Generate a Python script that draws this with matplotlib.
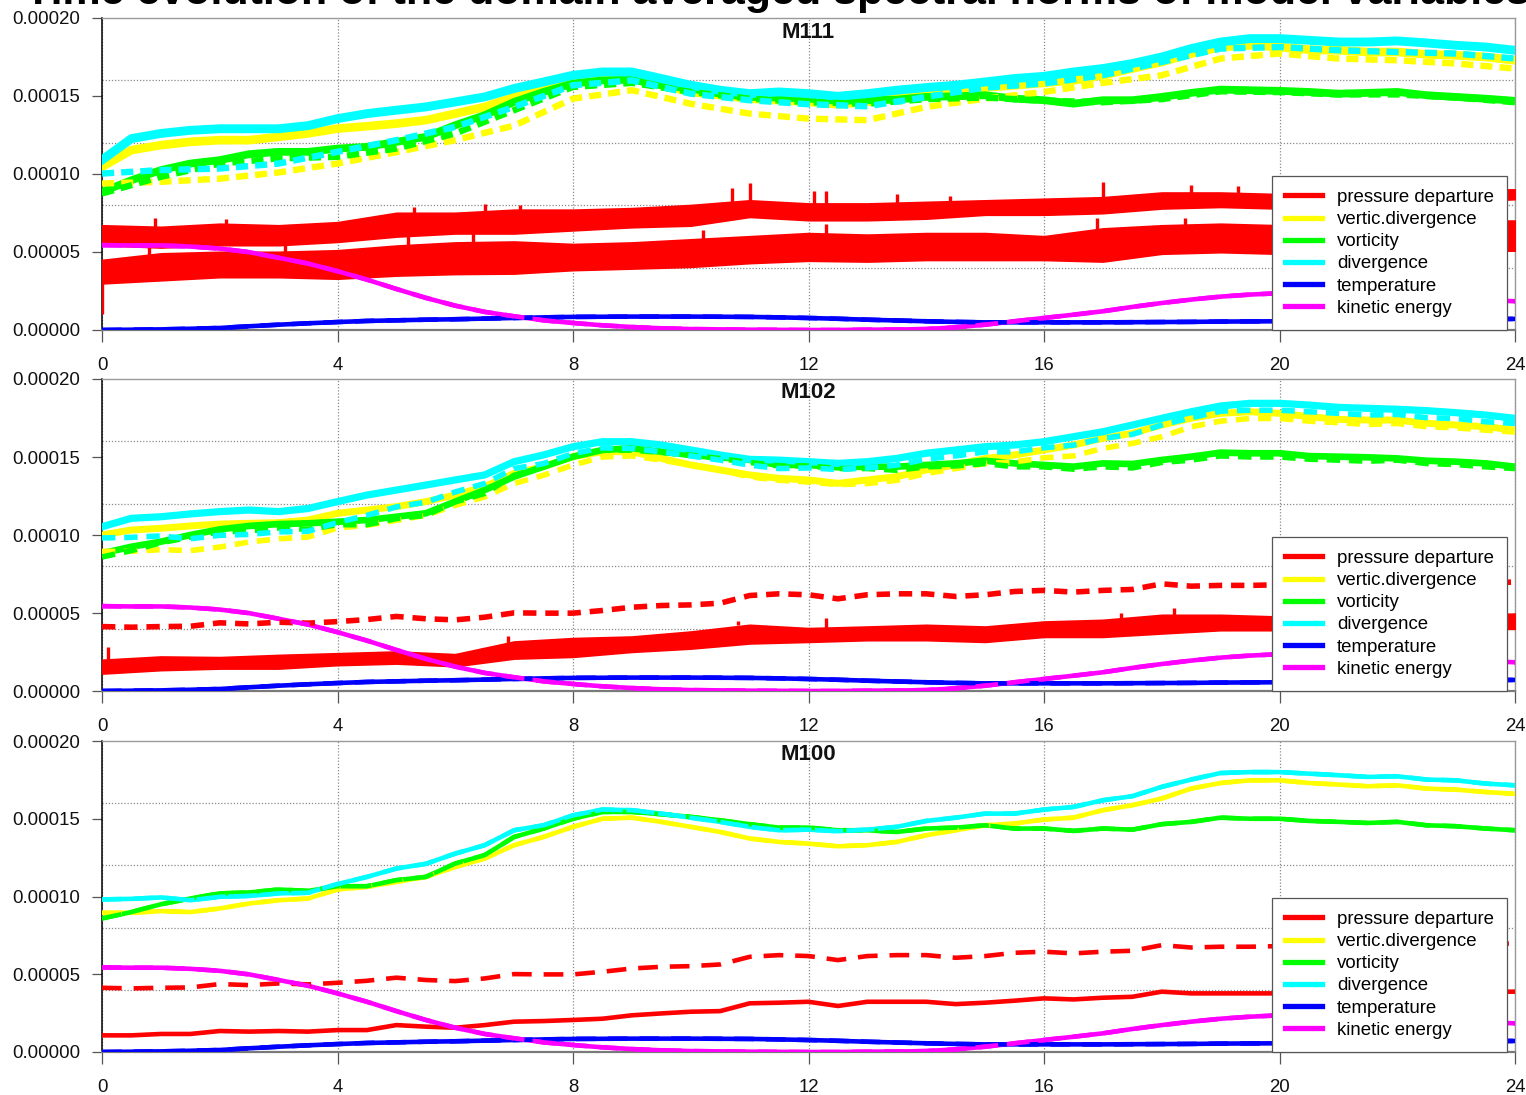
import numpy as np
import matplotlib
matplotlib.use("Agg")
import matplotlib.pyplot as plt
from matplotlib.lines import Line2D

plt.rcParams['font.family'] = ['Liberation Sans', 'DejaVu Sans']

# ---------------- data (values in units of 1e-5) ----------------
SCALE = 1e-5
hours = np.arange(0, 24.5, 0.5)      # half-hourly samples
hours_h = np.arange(0, 25, 1)        # hourly samples

variables = ['pressure departure', 'vertic.divergence', 'vorticity',
             'divergence', 'temperature', 'kinetic energy']
colors = ['#ff0000', '#ffff00', '#00ff00', '#00ffff', '#0000ff', '#ff00ff']
panel_titles = ['M111', 'M102', 'M100']
x_ticks = [0, 4, 8, 12, 16, 20, 24]
y_ticks = [0.0, 0.00005, 0.00010, 0.00015, 0.00020]
y_grid = [0.00004, 0.00008, 0.00012, 0.00016]
suptitle = 'Time evolution of the domain averaged spectral norms of model variables'

# shared smooth curves
kinetic = [5.44, 5.42, 5.42, 5.35, 5.22, 4.99, 4.63, 4.26, 3.77, 3.23,
           2.63, 2.06, 1.56, 1.16, 0.88, 0.62, 0.45, 0.30, 0.19, 0.11,
           0.06, 0.04, 0.02, 0.01, 0.00, 0.00, 0.02, 0.03, 0.06, 0.17,
           0.34, 0.56, 0.77, 0.98, 1.20, 1.48, 1.73, 1.95, 2.14, 2.27,
           2.36, 2.38, 2.36, 2.30, 2.22, 2.12, 2.02, 1.93, 1.84]
temperature = [0.00, 0.02, 0.04, 0.08, 0.13, 0.24, 0.34, 0.43, 0.51, 0.58,
               0.62, 0.66, 0.69, 0.73, 0.77, 0.81, 0.84, 0.85, 0.86, 0.86,
               0.86, 0.85, 0.84, 0.81, 0.77, 0.72, 0.66, 0.61, 0.56, 0.52,
               0.49, 0.49, 0.49, 0.49, 0.49, 0.50, 0.51, 0.52, 0.54, 0.55,
               0.56, 0.58, 0.60, 0.62, 0.64, 0.66, 0.68, 0.70, 0.71]

# M100 (smooth)
m100_pressure = [1.07, 1.07, 1.16, 1.16, 1.35, 1.31, 1.35, 1.31, 1.41, 1.41,
                 1.73, 1.63, 1.56, 1.73, 1.95, 1.99, 2.06, 2.14, 2.36, 2.48,
                 2.59, 2.63, 3.13, 3.17, 3.23, 2.96, 3.23, 3.23, 3.23, 3.08,
                 3.17, 3.30, 3.45, 3.38, 3.49, 3.55, 3.88, 3.77, 3.77, 3.77,
                 3.77, 3.80, 3.80, 3.80, 3.82, 3.85, 3.85, 3.87, 3.88]
m100_pressure_dash = [4.13, 4.09, 4.13, 4.15, 4.37, 4.30, 4.41, 4.35, 4.45, 4.58,
                      4.78, 4.63, 4.56, 4.73, 5.01, 4.99, 4.99, 5.16, 5.37, 5.48,
                      5.52, 5.63, 6.12, 6.23, 6.17, 5.91, 6.17, 6.23, 6.23, 6.06,
                      6.17, 6.38, 6.45, 6.34, 6.45, 6.51, 6.87, 6.72, 6.77, 6.77,
                      6.81, 6.85, 6.85, 6.88, 6.90, 6.90, 6.92, 6.95, 6.98]
m100_vdiv = [8.95, 8.95, 9.06, 9.00, 9.23, 9.55, 9.76, 9.87, 10.45, 10.62,
             10.94, 11.26, 11.90, 12.44, 13.30, 13.83, 14.48, 15.00, 15.07, 14.80,
             14.48, 14.15, 13.73, 13.51, 13.40, 13.23, 13.30, 13.51, 13.94, 14.26,
             14.58, 14.69, 14.95, 15.07, 15.55, 15.87, 16.30, 16.94, 17.30, 17.47,
             17.47, 17.30, 17.20, 17.09, 17.15, 16.94, 16.87, 16.72, 16.60]
m100_vort = [8.59, 9.00, 9.50, 9.87, 10.20, 10.26, 10.45, 10.36, 10.66, 10.66,
             11.05, 11.26, 12.12, 12.66, 13.83, 14.37, 15.00, 15.44, 15.44, 15.29,
             15.12, 14.90, 14.65, 14.43, 14.43, 14.26, 14.26, 14.15, 14.37, 14.43,
             14.58, 14.37, 14.37, 14.22, 14.37, 14.30, 14.65, 14.80, 15.07, 15.00,
             15.00, 14.86, 14.80, 14.73, 14.80, 14.58, 14.52, 14.37, 14.26]
m100_div = [9.81, 9.85, 9.94, 9.76, 9.98, 10.04, 10.20, 10.24, 10.80, 11.26,
            11.80, 12.10, 12.76, 13.30, 14.26, 14.58, 15.22, 15.59, 15.55, 15.33,
            15.07, 14.80, 14.48, 14.26, 14.30, 14.20, 14.30, 14.48, 14.86, 15.07,
            15.33, 15.33, 15.59, 15.76, 16.19, 16.45, 17.05, 17.52, 17.94, 18.00,
            18.00, 17.90, 17.80, 17.69, 17.73, 17.52, 17.47, 17.26, 17.15]

# M102 (noisy solid lines; dashed lines follow the M100 curves)
m102_pressure_lo = [1.13, 1.35, 1.45, 1.45, 1.67, 1.77, 1.60, 2.09, 2.20, 2.52,
                    2.73, 3.06, 3.16, 3.27, 3.27, 3.16, 3.48, 3.48, 3.70, 3.91,
                    3.91, 3.90, 3.90, 3.95, 4.00]
m102_pressure_hi = [1.99, 2.20, 2.16, 2.30, 2.41, 2.52, 2.35, 3.16, 3.38, 3.48,
                    3.80, 4.23, 4.02, 4.12, 4.23, 4.12, 4.44, 4.55, 4.87, 4.87,
                    4.76, 4.80, 4.80, 4.85, 4.95]
m102_vdiv = [10.00, 10.32, 10.43, 10.58, 10.70, 10.75, 10.79, 10.96, 11.39, 11.60,
             11.82, 12.14, 12.56, 13.10, 13.95, 14.38, 15.02, 15.34, 15.34, 14.91,
             14.49, 14.17, 13.85, 13.63, 13.53, 13.31, 13.53, 13.74, 14.17, 14.49,
             14.91, 15.13, 15.45, 15.77, 16.20, 16.52, 17.05, 17.48, 17.80, 17.90,
             17.80, 17.59, 17.41, 17.37, 17.37, 17.16, 17.05, 16.94, 16.73]
m102_vort = [8.82, 9.25, 9.57, 10.00, 10.36, 10.58, 10.70, 10.75, 10.85, 10.96,
             11.17, 11.39, 12.14, 12.88, 13.74, 14.38, 15.02, 15.45, 15.56, 15.34,
             15.13, 14.98, 14.81, 14.49, 14.49, 14.34, 14.38, 14.38, 14.49, 14.59,
             14.76, 14.59, 14.49, 14.38, 14.59, 14.55, 14.81, 15.02, 15.28, 15.24,
             15.24, 15.06, 15.02, 14.98, 14.91, 14.76, 14.70, 14.59, 14.38]
m102_div = [10.53, 11.07, 11.17, 11.35, 11.50, 11.60, 11.50, 11.70, 12.14, 12.56,
            12.88, 13.20, 13.53, 13.85, 14.70, 15.13, 15.66, 15.98, 15.98, 15.77,
            15.45, 15.13, 14.85, 14.80, 14.70, 14.59, 14.70, 14.91, 15.24, 15.45,
            15.66, 15.77, 15.98, 16.30, 16.62, 17.05, 17.48, 17.90, 18.27, 18.44,
            18.44, 18.33, 18.18, 18.12, 18.06, 17.97, 17.84, 17.69, 17.48]
m102_spike_t = [0.1, 6.9, 10.8, 12.3, 17.3, 18.2]
m102_spike_base = [2.0, 3.1, 4.2, 4.0, 4.5, 4.8]
m102_spike_top = [2.8, 3.5, 4.5, 4.7, 5.0, 5.3]

# M111 (noisy)
m111_pressure_lo = [3.00, 3.20, 3.40, 3.40, 3.30, 3.50, 3.60, 3.63, 3.85, 3.95,
                    4.06, 4.30, 4.45, 4.40, 4.50, 4.50, 4.50, 4.40, 4.90, 5.00,
                    4.90, 5.00, 5.00, 5.10, 5.10]
m111_pressure_hi = [4.48, 4.90, 5.00, 5.00, 5.10, 5.40, 5.60, 5.66, 5.50, 5.60,
                    5.80, 6.00, 6.20, 6.10, 6.20, 6.20, 6.00, 6.50, 6.70, 6.80,
                    6.70, 6.80, 6.90, 7.00, 7.00]
m111_pressure_dash_lo = [5.45, 5.30, 5.45, 5.45, 5.66, 6.00, 6.20, 6.20, 6.40, 6.60,
                         6.70, 7.26, 7.05, 7.05, 7.15, 7.40, 7.40, 7.50, 7.80, 7.90,
                         7.80, 7.90, 8.00, 8.20, 8.40]
m111_pressure_dash_hi = [6.70, 6.60, 6.80, 6.70, 6.90, 7.50, 7.50, 7.70, 7.70, 7.80,
                         8.00, 8.30, 8.10, 8.10, 8.20, 8.30, 8.40, 8.50, 8.80, 8.80,
                         8.70, 8.80, 8.90, 9.00, 9.00]
m111_spike_t = [0.0, 0.8, 0.9, 2.1, 3.1, 5.2, 5.3, 6.3, 6.5, 7.1, 10.2, 10.7,
                11.0, 12.1, 12.3, 12.3, 13.5, 14.4, 16.9, 17.0, 18.4, 18.5, 19.3]
m111_spike_base = [3.0, 4.6, 6.5, 6.6, 4.8, 5.3, 7.4, 7.0, 7.4, 7.6, 5.6, 7.9,
                   8.1, 8.0, 6.0, 8.0, 8.0, 8.1, 6.2, 8.4, 6.5, 8.7, 8.7]
m111_spike_top = [1.0, 6.1, 7.2, 7.1, 5.7, 6.4, 7.9, 5.0, 8.1, 8.0, 6.4, 9.1,
                  9.4, 8.9, 6.8, 8.9, 8.7, 8.6, 7.2, 9.5, 7.2, 9.3, 9.2]
m111_vdiv = [10.46, 11.53, 11.85, 12.06, 12.17, 12.17, 12.38, 12.60, 12.91, 13.06,
             13.23, 13.45, 13.87, 14.30, 14.94, 15.48, 15.90, 16.12, 16.12, 15.69,
             15.26, 15.05, 14.83, 14.73, 14.62, 14.47, 14.62, 14.83, 15.05, 15.33,
             15.54, 15.69, 15.84, 16.00, 16.33, 16.76, 17.18, 17.72, 18.14, 18.25,
             18.14, 17.97, 17.93, 17.82, 17.82, 17.67, 17.61, 17.50, 17.29]
m111_vort = [8.86, 9.60, 10.25, 10.67, 10.89, 11.27, 11.42, 11.42, 11.63, 11.74,
             12.06, 12.38, 13.13, 13.77, 14.62, 15.26, 15.80, 16.00, 16.05, 15.69,
             15.48, 15.15, 14.94, 14.90, 14.83, 14.69, 14.73, 14.77, 14.94, 14.98,
             15.05, 14.83, 14.73, 14.51, 14.73, 14.73, 14.94, 15.20, 15.41, 15.37,
             15.33, 15.26, 15.15, 15.20, 15.26, 15.05, 14.94, 14.83, 14.69]
m111_div = [10.90, 12.27, 12.60, 12.80, 12.90, 12.90, 12.90, 13.10, 13.55, 13.87,
            14.09, 14.30, 14.62, 14.94, 15.48, 15.90, 16.33, 16.54, 16.54, 16.12,
            15.69, 15.37, 15.15, 15.26, 15.15, 14.98, 15.15, 15.37, 15.54, 15.69,
            15.90, 16.12, 16.26, 16.54, 16.76, 17.08, 17.50, 18.04, 18.46, 18.68,
            18.68, 18.57, 18.46, 18.46, 18.53, 18.40, 18.25, 18.14, 17.93]
m111_vdiv_dash = [9.39, 9.50, 9.70, 10.10, 10.67, 11.40, 12.17, 13.10, 14.83, 15.37,
                  14.50, 13.87, 13.55, 13.45, 14.30, 14.83, 15.26, 15.84, 16.33, 17.40,
                  17.72, 17.40, 17.29, 17.08, 16.76]
m111_vort_dash = [8.75, 9.82, 10.67, 11.00, 11.10, 11.63, 12.60, 14.09, 15.58, 15.84,
                  15.26, 14.83, 14.60, 14.50, 14.80, 14.90, 14.70, 14.60, 14.80, 15.30,
                  15.25, 15.10, 15.10, 14.90, 14.60]
m111_div_dash = [10.03, 10.25, 10.35, 10.67, 11.42, 12.17, 13.02, 14.30, 15.69, 16.00,
                 15.15, 14.73, 14.47, 14.34, 14.94, 15.54, 15.80, 16.33, 17.18, 18.04,
                 18.14, 17.93, 17.82, 17.72, 17.40]


def s(v):
    return np.asarray(v) * SCALE


# ---------------- figure ----------------
W, H = 1526, 1095
fig = plt.figure(figsize=(W / 100, H / 100), dpi=100)

panels_px = [(18, 330), (379, 691), (741, 1052)]   # top, bottom in pixels
left_px, right_px = 102, 1515

LW = 3.3
dash_long = (4.3, 2.6)


def style_axes(ax, title):
    ax.set_xlim(0, 24)
    ax.set_ylim(0, 0.0002)
    ax.set_xticks(x_ticks)
    ax.set_xticklabels([str(v) for v in x_ticks])
    ax.set_yticks(y_ticks)
    ax.set_yticklabels(['%.5f' % v for v in y_ticks])
    ax.set_yticks(y_grid, minor=True)
    ax.tick_params(axis='y', which='minor', length=0)
    ax.tick_params(axis='both', which='major', direction='out', color='#555555',
                   width=0.9, labelsize=13.4, labelcolor='#111111')
    ax.tick_params(axis='x', which='major', length=8.6, pad=11)
    ax.tick_params(axis='y', which='major', length=7.2, pad=8.5)
    ax.grid(which='minor', axis='y', linestyle=(0, (1, 1.5)), color='#8a8a8a', linewidth=0.9)
    ax.grid(which='major', axis='x', linestyle=(0, (1, 1.5)), color='#8a8a8a', linewidth=0.9)
    ax.grid(which='major', axis='y', visible=False)
    ax.set_axisbelow(True)
    ax.spines['left'].set_color('#000000')
    ax.spines['left'].set_linewidth(1.1)
    ax.spines['bottom'].set_color('#7a7a7a')
    ax.spines['bottom'].set_linewidth(1.6)
    ax.spines['top'].set_color('#9a9a9a')
    ax.spines['top'].set_linewidth(1.0)
    ax.spines['right'].set_color('#9a9a9a')
    ax.spines['right'].set_linewidth(1.0)
    ax.text(0.5, 1 - 14 / 312, title, transform=ax.transAxes, ha='center', va='center',
            fontsize=16, fontweight='bold', color='#111111', zorder=10)
    handles = [Line2D([0], [0], color=c, lw=3.8) for c in colors]
    leg = ax.legend(handles, variables, loc='lower right',
                    bbox_to_anchor=((1507 - left_px) / (right_px - left_px), 0.0),
                    borderaxespad=0, fontsize=13.4, frameon=True, fancybox=False,
                    framealpha=1, edgecolor='#555555', handlelength=2.0,
                    handletextpad=0.8, labelspacing=0.28, borderpad=0.7)
    leg.get_frame().set_linewidth(0.9)
    leg.set_zorder(20)


axes = []
for (top, bot) in panels_px:
    ax = fig.add_axes([left_px / W, 1 - bot / H, (right_px - left_px) / W, (bot - top) / H])
    axes.append(ax)

# ---- Panel M111 ----
ax = axes[0]
ax.fill_between(hours_h, s(m111_pressure_lo), s(m111_pressure_hi), color=colors[0], lw=1.5,
                edgecolor=colors[0], zorder=3)
ax.fill_between(hours_h, s(m111_pressure_dash_lo), s(m111_pressure_dash_hi), color=colors[0],
                lw=1.5, edgecolor=colors[0], zorder=3)
ax.vlines(m111_spike_t, s(m111_spike_base), s(m111_spike_top), color=colors[0], lw=2.4, zorder=3)
ax.plot(hours, s(m111_vdiv), color=colors[1], lw=6.2, zorder=4)
ax.plot(hours, s(m111_vort), color=colors[2], lw=5.6, zorder=4)
ax.plot(hours, s(m111_div), color=colors[3], lw=6.4, zorder=4)
ax.plot(hours, s(temperature), color=colors[4], lw=LW, zorder=4)
ax.plot(hours, s(kinetic), color=colors[5], lw=LW, zorder=4)
ax.plot(hours_h, s(m111_vdiv_dash), color=colors[1], lw=4.6, dashes=(1.9, 1.1), zorder=5)
ax.plot(hours_h, s(m111_vort_dash), color=colors[2], lw=4.6, dashes=(1.9, 1.1), zorder=5)
ax.plot(hours_h, s(m111_div_dash), color=colors[3], lw=4.6, dashes=(1.9, 1.1), zorder=5)
ax.plot(hours, s(temperature), color=colors[4], lw=LW, dashes=dash_long, zorder=5)
ax.plot(hours, s(kinetic), color=colors[5], lw=LW, dashes=dash_long, zorder=5)
style_axes(ax, panel_titles[0])

# ---- Panel M102 ----
ax = axes[1]
ax.fill_between(hours_h, s(m102_pressure_lo), s(m102_pressure_hi), color=colors[0], lw=1.5,
                edgecolor=colors[0], zorder=3)
ax.vlines(m102_spike_t, s(m102_spike_base), s(m102_spike_top), color=colors[0], lw=2.4, zorder=3)
ax.plot(hours, s(m102_vdiv), color=colors[1], lw=5.0, zorder=4)
ax.plot(hours, s(m102_vort), color=colors[2], lw=4.8, zorder=4)
ax.plot(hours, s(m102_div), color=colors[3], lw=5.2, zorder=4)
ax.plot(hours, s(temperature), color=colors[4], lw=LW, zorder=4)
ax.plot(hours, s(kinetic), color=colors[5], lw=LW, zorder=4)
ax.plot(hours, s(m100_pressure_dash), color=colors[0], lw=4.0, dashes=(2.4, 1.6), zorder=5)
ax.plot(hours, s(m100_vdiv), color=colors[1], lw=4.0, dashes=(2.4, 1.6), zorder=5)
ax.plot(hours, s(m100_vort), color=colors[2], lw=4.0, dashes=(2.4, 1.6), zorder=5)
ax.plot(hours, s(m100_div), color=colors[3], lw=4.0, dashes=(2.4, 1.6), zorder=5)
ax.plot(hours, s(temperature), color=colors[4], lw=LW, dashes=dash_long, zorder=5)
ax.plot(hours, s(kinetic), color=colors[5], lw=LW, dashes=dash_long, zorder=5)
style_axes(ax, panel_titles[1])

# ---- Panel M100 ----
ax = axes[2]
ax.plot(hours, s(m100_pressure), color=colors[0], lw=LW, zorder=4)
ax.plot(hours, s(m100_vdiv), color=colors[1], lw=LW, zorder=4)
ax.plot(hours, s(m100_vort), color=colors[2], lw=LW, zorder=4)
ax.plot(hours, s(m100_div), color=colors[3], lw=LW, zorder=4)
ax.plot(hours, s(temperature), color=colors[4], lw=LW, zorder=4)
ax.plot(hours, s(kinetic), color=colors[5], lw=LW, zorder=4)
ax.plot(hours, s(m100_pressure_dash), color=colors[0], lw=LW, dashes=dash_long, zorder=5)
ax.plot(hours, s(m100_vdiv), color=colors[1], lw=LW, dashes=dash_long, zorder=5)
ax.plot(hours, s(m100_vort), color=colors[2], lw=LW, dashes=dash_long, zorder=5)
ax.plot(hours, s(m100_div), color=colors[3], lw=LW, dashes=dash_long, zorder=5)
ax.plot(hours, s(temperature), color=colors[4], lw=LW, dashes=dash_long, zorder=5)
ax.plot(hours, s(kinetic), color=colors[5], lw=LW, dashes=dash_long, zorder=5)
style_axes(ax, panel_titles[2])

fig.text(25 / W, 1 - 4.3 / H, suptitle, ha='left', va='baseline', fontsize=31,
         fontweight='bold', color='#000000')

fig.savefig('out.png', dpi=100)
